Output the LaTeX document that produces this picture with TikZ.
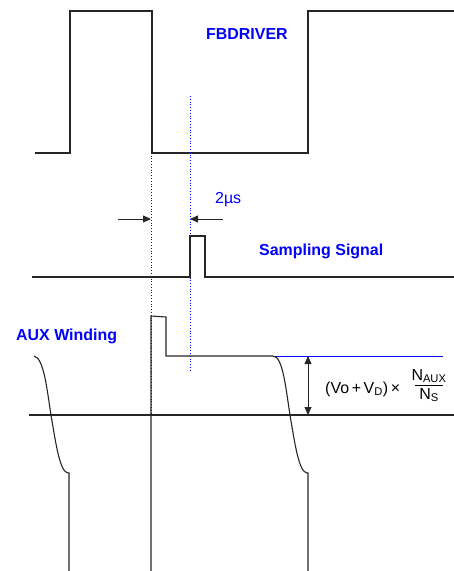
\documentclass[tikz,border=0pt]{standalone}
\usepackage{fontspec}
\setmainfont{Liberation Sans}
\usetikzlibrary{arrows.meta}
\begin{document}
\begin{tikzpicture}[x=1bp,y=-1bp,
  wave/.style={line width=1.1bp, draw=black!85, line join=miter},
  guide/.style={draw=blue, dotted, line width=0.8bp},
  lab/.style={text=blue, font=\bfseries\fontsize{16}{19}\selectfont, inner sep=0pt},
  formula/.style={text=black, font=\fontsize{16}{19}\selectfont, inner sep=0pt},
  arr/.style={line width=0.8bp, draw=black!85, -{Triangle[length=8bp,width=7bp]}},
  darr/.style={line width=0.8bp, draw=black!85, {Triangle[length=8bp,width=7bp]}-{Triangle[length=8bp,width=7bp]}}]
\useasboundingbox (0,0) rectangle (454,571);
% FBDRIVER waveform
\draw[wave] (35,153) -- (70,153) -- (70,11) -- (152,11) -- (152,153) -- (308,153) -- (308,11) -- (454,11);
% guides
\draw[guide] (151,97) -- (151,415);
\draw[guide] (190,96) -- (190,370);
% sampling signal
\draw[wave] (32,277) -- (190,277) -- (190,236) -- (205,236) -- (205,277) -- (454,277);
% zero line
\draw[wave] (29,415) -- (454,415);
% reflected level
\draw[blue, line width=0.8bp] (273,356) -- (443,356);
% AUX winding
\draw[wave] (151,571) -- (151,316) -- (166,317) -- (166,356) -- (273,356)
  .. controls (283,356) and (286,390) .. (290,415)
  .. controls (295,445) and (299,472) .. (307,473) -- (308,473) -- (308,571);
\draw[wave] (34,356) .. controls (44,358) and (47,390) .. (51,415)
  .. controls (56,445) and (60,472) .. (68,473) -- (69,473) -- (69,571);
% 2us arrows
\coordinate (la) at (118,219);
\coordinate (lt) at (151,219);
\coordinate (ra) at (223,219);
\coordinate (rt) at (190,219);
\draw[arr] (la) -- (lt);
\draw[arr] (ra) -- (rt);
% amplitude arrow
\coordinate (ut) at (308,356);
\coordinate (dt) at (308,415);
\draw[darr] (ut) -- (dt);
% labels
\node[lab, anchor=base west] (fb) at (206,40) {FBDRIVER};
\node[lab, anchor=base west] (ss) at (259,255) {Sampling Signal};
\node[lab, anchor=base west] (aux) at (16,340) {AUX Winding};
\node[formula, text=blue, anchor=base west] (tus) at (215,203) {2µs};
\node[formula, anchor=base west] (f1) at (325,393) {(Vo\,+\,V\textsubscript{D})\,×};
\coordinate (fbl) at (415,385);
\coordinate (fbr) at (443,385);
\draw[line width=0.7bp] (fbl) -- (fbr);
\node[formula, anchor=south] (fn) at (429,383) {N\textsubscript{AUX}};
\node[formula, anchor=north] (fd) at (429,388) {N\textsubscript{S}};
\end{tikzpicture}
\end{document}
